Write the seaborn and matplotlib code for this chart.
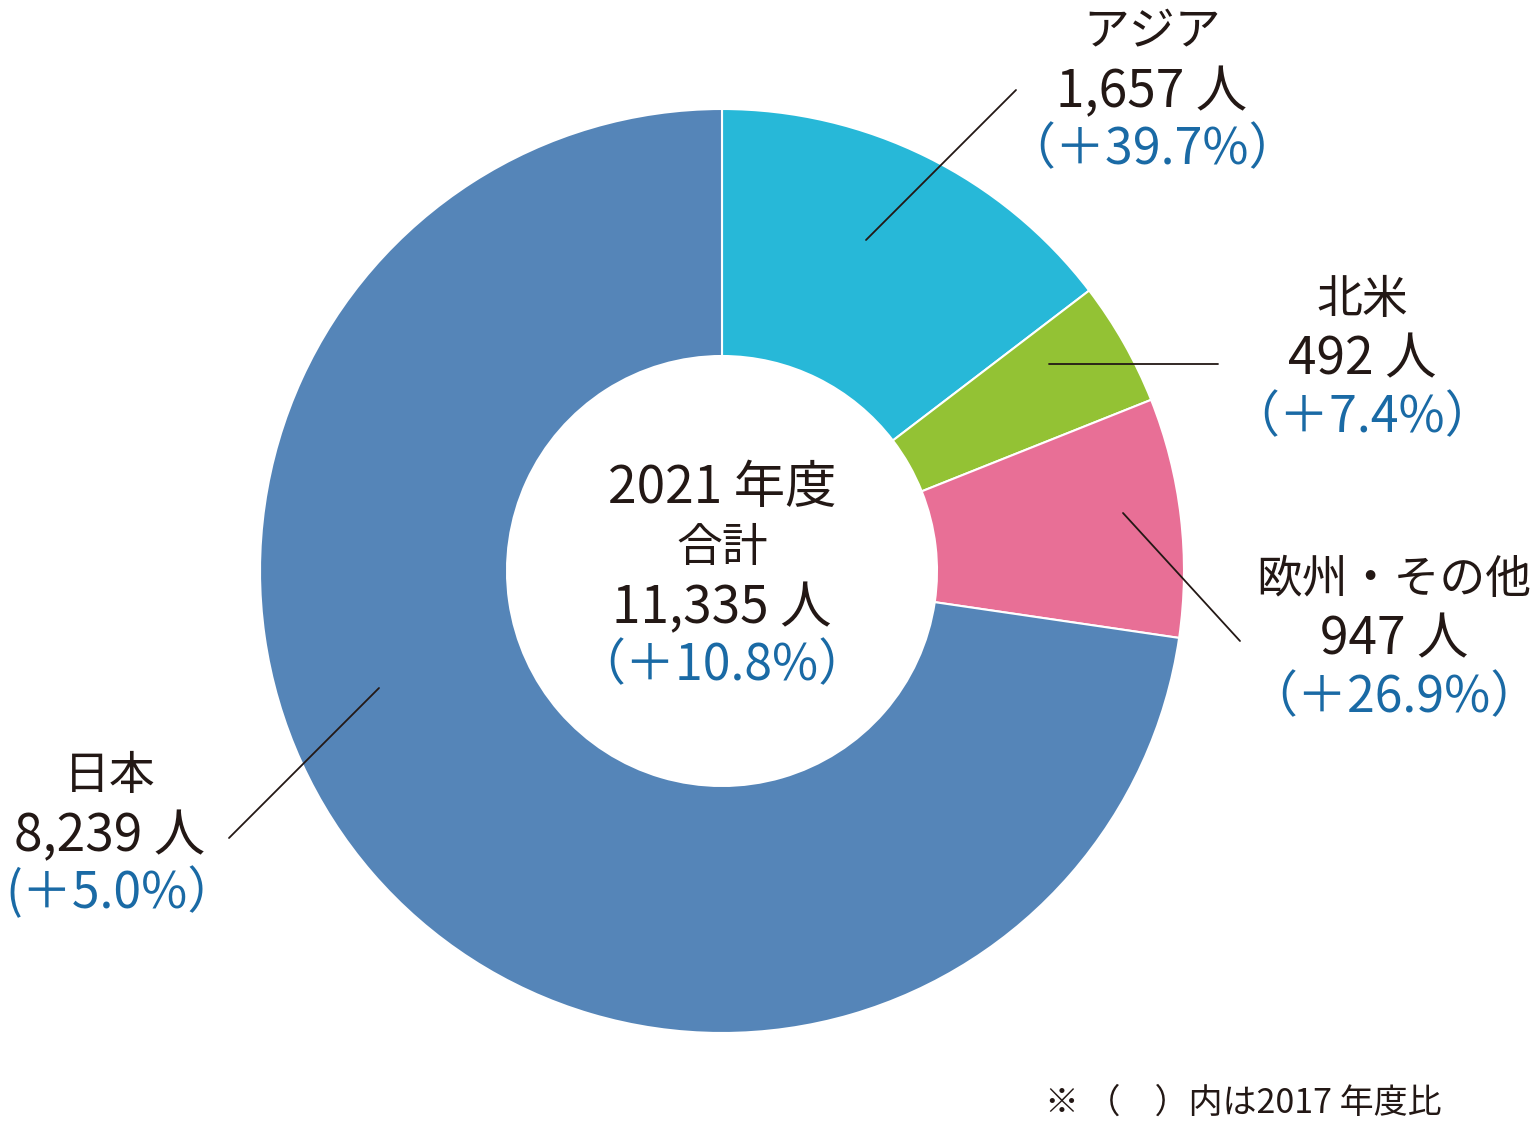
import matplotlib
matplotlib.use("Agg")
import matplotlib.pyplot as plt
import seaborn as sns

sns.set_theme(style="white")
plt.rcParams['font.family'] = ['Noto Sans CJK JP', 'DejaVu Sans']

# ---- data ----
regions = ["アジア", "北米", "欧州・その他", "日本"]
counts = [1657, 492, 947, 8239]
count_labels = ["1,657 人", "492 人", "947 人", "8,239 人"]
growth_labels = ["（＋39.7%）", "（＋7.4%）", "（＋26.9%）", "(＋5.0%）"]
colors = ["#27B8D8", "#93C234", "#E86F96", "#5585B8"]
center_lines = ["2021 年度", "合計", "11,335 人"]
center_growth = "（＋10.8%）"
footnote = "※ （　）内は2017 年度比"

W, H = 1540, 1130
fig = plt.figure(figsize=(W / 100, H / 100), dpi=100)
ax = fig.add_axes([0, 0, 1, 1])
ax.set_xlim(0, W)
ax.set_ylim(0, H)
ax.set_aspect("equal")
ax.axis("off")

def Y(py):
    return H - py

cx, cy, R = 722, 571, 462
ax.pie(counts, colors=colors, startangle=90, counterclock=False,
       center=(cx, Y(cy)), radius=R,
       wedgeprops=dict(width=R - 215, edgecolor="white", linewidth=1.5))
ax.set_xlim(0, W)
ax.set_ylim(0, H)

black = "#231815"
blue = "#1A6AA5"
fs = 37
fs_name = 33

# leader lines (pixel coordinates)
leaders = [((866, 240), (1016, 90)),
           ((1049, 364), (1218, 364)),
           ((1123, 513), (1240, 641)),
           ((379, 688), (229, 838))]
for (x1, y1), (x2, y2) in leaders:
    ax.plot([x1, x2], [Y(y1), Y(y2)], color=black, lw=1.3)

label_pos = [(1152, 32), (1362, 300), (1394, 580), (110, 776)]
blue_dx = [0, 0, 0, 11]
for name, cl, gl, (x, y), dx in zip(regions, count_labels, growth_labels, label_pos, blue_dx):
    ax.text(x, Y(y), name, ha="center", va="center", fontsize=fs_name, color=black)
    ax.text(x, Y(y + 60), cl, ha="center", va="center", fontsize=fs, color=black)
    ax.text(x + dx, Y(y + 118), gl, ha="center", va="center", fontsize=fs - 1, color=blue)

for i, t in enumerate(center_lines):
    size = fs_name if t == "合計" else fs
    ax.text(cx, Y(488 + 60 * i), t, ha="center", va="center", fontsize=size, color=black)
ax.text(cx, Y(666), center_growth, ha="center", va="center", fontsize=fs - 1, color=blue)

ax.text(1045, Y(1103), footnote, ha="left", va="center", fontsize=24.5, color=black)

fig.savefig("out.png", dpi=100, facecolor="white")
